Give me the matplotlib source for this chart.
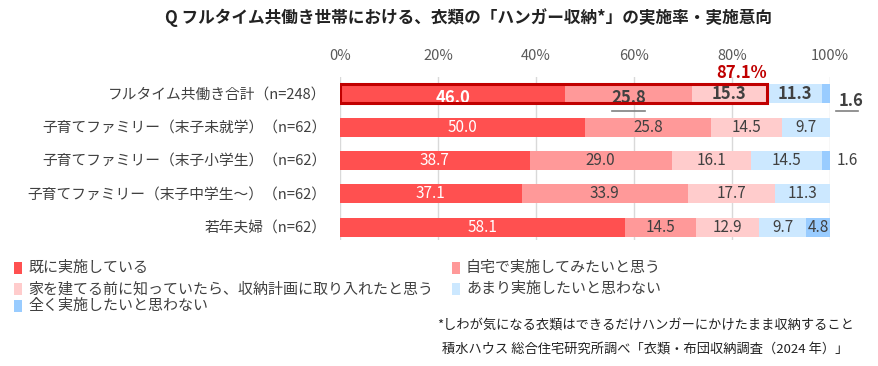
import matplotlib
matplotlib.use("Agg")
import matplotlib.pyplot as plt
import numpy as np
from matplotlib.patches import Rectangle

plt.rcParams['font.family'] = ['Noto Sans CJK JP', 'DejaVu Sans']

categories = ["フルタイム共働き合計（n=248）",
              "子育てファミリー（末子未就学）（n=62）",
              "子育てファミリー（末子小学生）（n=62）",
              "子育てファミリー（末子中学生～）（n=62）",
              "若年夫婦（n=62）"]
series_names = ["既に実施している", "自宅で実施してみたいと思う",
                "家を建てる前に知っていたら、収納計画に取り入れたと思う",
                "あまり実施したいと思わない", "全く実施したいと思わない"]
already = [46.0, 50.0, 38.7, 37.1, 58.1]
want_try = [25.8, 25.8, 29.0, 33.9, 14.5]
if_known = [15.3, 14.5, 16.1, 17.7, 12.9]
not_much = [11.3, 9.7, 14.5, 11.3, 9.7]
not_at_all = [1.6, 0.0, 1.6, 0.0, 4.8]
total_label = "87.1%"
xticks = [0, 20, 40, 60, 80, 100]
title = "Q フルタイム共働き世帯における、衣類の「ハンガー収納*」の実施率・実施意向"
note1 = "*しわが気になる衣類はできるだけハンガーにかけたまま収納すること"
note2 = "積水ハウス 総合住宅研究所調べ「衣類・布団収納調査（2024 年）」"

colors = ["#FF5050", "#FF9999", "#FFCCCC", "#CCE8FF", "#99CCFF"]
text_dark = "#404040"

W, H = 879, 366
fig = plt.figure(figsize=(W / 100, H / 100), dpi=100)

def fx(px):
    return px / W

def fy(py):
    return 1 - py / H

ax = fig.add_axes([fx(340), fy(240), fx(830) - fx(340), fy(77) - fy(240)])
ax.set_xlim(0, 100)
ax.set_ylim(4.39, -0.51)

data = [already, want_try, if_known, not_much, not_at_all]
y = np.arange(len(categories))
bh = 0.57
left = np.zeros(len(categories))
for i, vals in enumerate(data):
    vals = np.array(vals)
    ax.barh(y, vals, left=left, height=bh, color=colors[i], edgecolor='none', zorder=3)
    for j, v in enumerate(vals):
        if v <= 0:
            continue
        cx = left[j] + v / 2
        col = "white" if i == 0 else text_dark
        bold = (j == 0)
        if i == 4 and v < 3:
            if j == 0:
                ax.text(101.8, j + 0.2, f"{v:.1f}", ha='left', va='center', fontsize=12,
                        color=text_dark, fontweight='bold', zorder=5, clip_on=False)
                ax.plot([101.2, 105.8], [j + 0.5, j + 0.5], color='#808080', lw=1.2,
                        clip_on=False, zorder=5)
            else:
                ax.text(101.3, j, f"{v:.1f}", ha='left', va='center', fontsize=11,
                        color=text_dark, zorder=5, clip_on=False)
            continue
        dy = 0
        if j == 0 and i in (0, 1):
            dy = 0.12
        ax.text(cx, j + dy, f"{v:.1f}", ha='center', va='center',
                fontsize=12 if bold else 11, color=col,
                fontweight='bold' if bold else 'normal', zorder=5)
        if j == 0 and i == 1:
            ax.plot([cx - 3.3, cx + 3.3], [j + 0.5, j + 0.5], color='#808080', lw=1.2, zorder=5)
    left += vals

tot = already[0] + want_try[0] + if_known[0]
ax.add_patch(Rectangle((0, -bh / 2), tot, bh, fill=False, edgecolor="#C00000", lw=2.2, zorder=6))
ax.text(tot, -0.36, total_label, ha='right', va='bottom', fontsize=12, fontweight='bold',
        color="#C00000", zorder=6)

ax.set_yticks(y)
ax.set_yticklabels(categories, fontsize=10.6, color=text_dark)
ax.set_xticks(xticks)
ax.set_xticklabels([f"{t}%" for t in xticks], fontsize=10.5, color="#595959")
ax.xaxis.tick_top()
ax.tick_params(axis='both', length=0)
ax.tick_params(axis='x', pad=10)
ax.tick_params(axis='y', pad=10)
ax.grid(axis='x', color='#D9D9D9', lw=1, zorder=0)
for s in ax.spines.values():
    s.set_visible(False)

fig.text(fx(469), fy(18), title, ha='center', va='center', fontsize=12, fontweight='bold', color='#222222')

leg_pos = [(14, 268), (452, 268), (14, 289), (452, 289), (14, 306)]
for name, c, (px, py) in zip(series_names, colors, leg_pos):
    fig.patches.append(Rectangle((fx(px), fy(py) - 0.016), fx(8), 0.032, transform=fig.transFigure,
                                 facecolor=c, edgecolor='none'))
    fig.text(fx(px + 14), fy(py), name, ha='left', va='center', fontsize=10.8, color=text_dark)

fig.text(fx(437), fy(326), note1, ha='left', va='center', fontsize=9.5, color='#222222')
fig.text(fx(848), fy(349), note2, ha='right', va='center', fontsize=9.5, color='#222222')

fig.savefig("out.png", dpi=100)
